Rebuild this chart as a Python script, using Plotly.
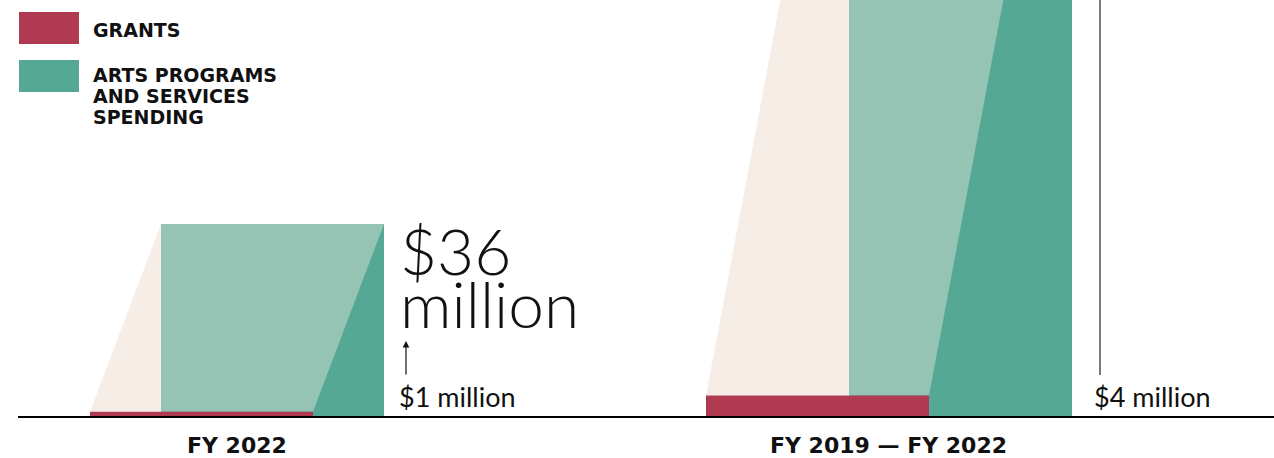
import plotly.graph_objects as go

# ---------------- data ----------------
groups = ["FY 2022", "FY 2019 — FY 2022"]
grants = [1, 4]            # $ million
arts_programs = [36, 146]  # $ million (second bar runs off the top of the view)
grant_labels = ["$1 million", "$4 million"]
arts_label_big = ["$36", "million"]
legend_items = ["GRANTS", "ARTS PROGRAMS\nAND SERVICES\nSPENDING"]

# ---------------- layout constants (pixel-like x axis, $M y axis) ----------------
W, H = 1274, 458
BASE_PX = 417                # pixel row of the zero baseline
PX_PER_M = 193 / 36          # vertical scale
RECT_LEFT = [161, 849]       # left edge of the back (rectangular) face
BAR_W = 223
SKEW = [71, 143]             # horizontal offset of the slanted front face at its bottom

C_RED = "#B03A52"
C_DARK = "#55A994"
C_LIGHT = "#95C3B4"
C_CREAM = "#F6EDE7"
C_TEXT = "#111111"

BOLD = "DejaVu Sans"
LIGHT = "Lato"


def py(px):
    """pixel row -> data y ($M)"""
    return (BASE_PX - px) / PX_PER_M


fig = go.Figure()


def poly(xs, ys, color):
    fig.add_trace(go.Scatter(
        x=xs + [xs[0]], y=ys + [ys[0]], mode="lines", fill="toself",
        fillcolor=color, line=dict(width=0, color=color),
        hoverinfo="skip", showlegend=False))


for i in range(len(groups)):
    L, off, g, T = RECT_LEFT[i], SKEW[i], grants[i], arts_programs[i]
    # cream slanted face
    poly([L - off, L - off + BAR_W, L + BAR_W, L], [g, g, T, T], C_CREAM)
    # dark teal back rectangle
    poly([L, L + BAR_W, L + BAR_W, L], [0, 0, T, T], C_DARK)
    # light teal overlap
    poly([L, L - off + BAR_W, L + BAR_W, L], [g, g, T, T], C_LIGHT)
    # grants bar
    poly([L - off, L - off + BAR_W, L - off + BAR_W, L - off], [0, 0, g, g], C_RED)

# baseline
fig.add_trace(go.Scatter(x=[18, W], y=[0, 0], mode="lines",
                         line=dict(color="#000000", width=2.2),
                         hoverinfo="skip", showlegend=False))

# leader line for the second group (runs up to its off-view total)
fig.add_trace(go.Scatter(x=[1100, 1100], y=[py(375), arts_programs[1]], mode="lines",
                         line=dict(color="#222222", width=1.2),
                         hoverinfo="skip", showlegend=False))

ann = []
# arrow for first group
ann.append(dict(x=406, y=py(341), ax=406, ay=py(376), xref="x", yref="y",
                axref="x", ayref="y", text="", showarrow=True,
                arrowhead=2, arrowsize=1.1, arrowwidth=1.2, arrowcolor="#111111"))

# big value label
ann.append(dict(x=398, y=py(250), xref="x", yref="y", text=arts_label_big[0],
                showarrow=False, xanchor="left", yanchor="middle",
                font=dict(family=LIGHT, size=64, color=C_TEXT, weight=300)))
ann.append(dict(x=398, y=py(303), xref="x", yref="y", text=arts_label_big[1],
                showarrow=False, xanchor="left", yanchor="middle",
                font=dict(family=LIGHT, size=64, color=C_TEXT, weight=300)))

# grant labels
for xpos, lab in zip([397, 1092], grant_labels):
    ann.append(dict(x=xpos, y=py(396), xref="x", yref="y", text=lab,
                    showarrow=False, xanchor="left", yanchor="middle",
                    font=dict(family=LIGHT, size=27, color=C_TEXT)))

# group labels
for xc, name in zip([237, 888], groups):
    ann.append(dict(x=xc, y=py(445), xref="x", yref="y", text="<b>%s</b>" % name,
                    showarrow=False, xanchor="center", yanchor="middle",
                    font=dict(family=BOLD, size=22, color=C_TEXT)))

# legend (custom)
shapes = []
for (y0, y1), col in zip([(12, 44), (60, 92)], [C_RED, C_DARK]):
    shapes.append(dict(type="rect", xref="x", yref="y", x0=19, x1=79,
                       y0=py(y1), y1=py(y0), fillcolor=col, line=dict(width=0), layer="above"))

leg_rows = [(legend_items[0], [29.5]), (legend_items[1], [74.5, 95.5, 116.5])]
for txt, centers in leg_rows:
    for line, cy in zip(txt.split("\n"), centers):
        ann.append(dict(x=91, y=py(cy), xref="x", yref="y", text="<b>%s</b>" % line,
                        showarrow=False, xanchor="left", yanchor="middle",
                        font=dict(family=BOLD, size=19, color=C_TEXT)))

fig.update_layout(
    width=W, height=H,
    margin=dict(l=0, r=0, t=0, b=0),
    paper_bgcolor="white", plot_bgcolor="white",
    xaxis=dict(range=[0, W], visible=False, fixedrange=True),
    yaxis=dict(range=[py(H), py(0)], visible=False, fixedrange=True),
    annotations=ann, shapes=shapes, showlegend=False,
)

fig.write_html("out.html", config={"displayModeBar": False},
               post_script="document.body.style.margin='0';document.body.style.overflow='hidden';")
